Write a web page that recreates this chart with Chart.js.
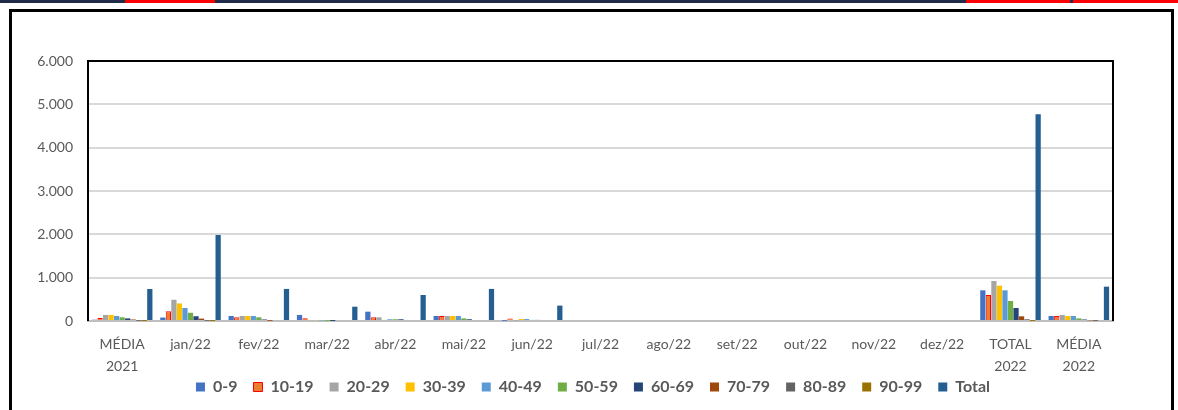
<!DOCTYPE html>
<html>
<head>
<meta charset="utf-8">
<script src="https://cdn.jsdelivr.net/npm/chart.js@4"></script>
<style>
  html, body { margin: 0; padding: 0; background: #fff; }
  body { width: 1178px; height: 410px; position: relative; overflow: hidden; }
  #strip { position: absolute; left: 0; top: 0; width: 1178px; height: 3px; background: #1f2b48; }
  .red { position: absolute; top: 0; height: 3px; background: #ff0000; }
  #frame { position: absolute; left: 9px; top: 9px; width: 1159px; height: 420px; border: 3px solid #000; box-sizing: content-box; }
  #chart { position: absolute; left: 0; top: 0; }
</style>
</head>
<body>
<div id="strip">
  <div class="red" style="left:125px;width:90px"></div>
  <div class="red" style="left:966px;width:104px"></div>
  <div class="red" style="left:1073px;width:105px"></div>
</div>
<div id="frame"></div>
<canvas id="chart" width="1178" height="410"></canvas>
<script>
// Faixa etária por mês

const categories = [['MÉDIA', '2021'], 'jan/22', 'fev/22', 'mar/22', 'abr/22', 'mai/22', 'jun/22',
    'jul/22', 'ago/22', 'set/22', 'out/22', 'nov/22', 'dez/22', ['TOTAL', '2022'], ['MÉDIA', '2022']];

const age0_9   = [30,  80, 115, 140, 215, 115,  5, 0, 0, 0, 0, 0, 0, 708, 115];
const age10_19 = [70, 225,  85,  65,  85, 115, 60, 0, 0, 0, 0, 0, 0, 600, 115];
const age20_29 = [140, 490, 115, 20,  85, 115, 10, 0, 0, 0, 0, 0, 0, 923, 140];
const age30_39 = [140, 405, 115, 20,  25, 115, 45, 0, 0, 0, 0, 0, 0, 815, 115];
const age40_49 = [115, 300, 115, 15,  40, 115, 45, 0, 0, 0, 0, 0, 0, 708, 115];
const age50_59 = [85, 190,  85,   5,  40,  60, 25, 0, 0, 0, 0, 0, 0, 461,  60];
const age60_69 = [60, 110,  35,   2,  40,  40, 25, 0, 0, 0, 0, 0, 0, 300,  35];
const age70_79 = [35,  55,   5,   0,   0,   0,  0, 0, 0, 0, 0, 0, 0, 108,  15];
const age80_89 = [5,    5,   0,   0,   0,   0,  0, 0, 0, 0, 0, 0, 0,  40,   3];
const age90_99 = [1,    1,   0,   0,   0,   0,  0, 0, 0, 0, 0, 0, 0,   2,   0];
const total    = [738, 1985, 740, 330, 600, 740, 355, 0, 0, 0, 0, 0, 0, 4770, 792];

const yTicks = [0, 1000, 2000, 3000, 4000, 5000, 6000];

const series = [
    { label: '0-9',   data: age0_9,   color: '#4472c4' },
    { label: '10-19', data: age10_19, color: '#ed7d31', border: '#ff0000' },
    { label: '20-29', data: age20_29, color: '#a5a5a5' },
    { label: '30-39', data: age30_39, color: '#ffc000' },
    { label: '40-49', data: age40_49, color: '#5b9bd5' },
    { label: '50-59', data: age50_59, color: '#70ad47' },
    { label: '60-69', data: age60_69, color: '#264478' },
    { label: '70-79', data: age70_79, color: '#9e480e' },
    { label: '80-89', data: age80_89, color: '#636363' },
    { label: '90-99', data: age90_99, color: '#997300' },
    { label: 'Total', data: total,    color: '#255e91' }
];

const fontFamily = 'Lato, "Open Sans", sans-serif';
const textColor = '#595959';

// moldura da área do gráfico (preta em cima e nos lados)
const plotBorder = {
    id: 'plotBorder',
    afterLayout(chart) {
        // deixa a segunda linha dos rótulos do eixo x sem corte
        chart.scales.x.bottom = chart.height;
    },
    afterDraw(chart) {
        const a = chart.chartArea;
        const c = chart.ctx;
        c.save();
        c.strokeStyle = '#000';
        c.lineWidth = 2;
        c.beginPath();
        c.moveTo(a.left, a.bottom);
        c.lineTo(a.left, a.top);
        c.lineTo(a.right, a.top);
        c.lineTo(a.right, a.bottom);
        c.stroke();
        c.restore();
    }
};

new Chart(document.getElementById('chart').getContext('2d'), {
    type: 'bar',
    data: {
        labels: categories,
        datasets: series.map(s => ({
            label: s.label,
            data: s.data,
            backgroundColor: s.color,
            borderColor: s.border || s.color,
            borderWidth: s.border ? 1 : 0,
            categoryPercentage: 0.89,
            barPercentage: 0.95
        }))
    },
    options: {
        responsive: false,
        animation: false,
        layout: { padding: { left: 8, right: 0, top: 61, bottom: 5 } },
        plugins: {
            tooltip: { enabled: false },
            legend: {
                position: 'bottom',
                labels: {
                    color: textColor,
                    font: { family: fontFamily, size: 16, weight: 'bold' },
                    boxWidth: 9,
                    boxHeight: 9,
                    padding: 16
                }
            }
        },
        scales: {
            x: {
                grid: { display: false, drawTicks: false },
                border: { color: '#bfbfbf', width: 2 },
                ticks: {
                    color: textColor,
                    font: { family: fontFamily, size: 14, lineHeight: 1.55 },
                    padding: 13,
                    maxRotation: 0,
                    autoSkip: false
                },
                afterFit(scale) { scale.height = 42; }
            },
            y: {
                min: 0,
                max: 6000,
                afterBuildTicks(scale) { scale.ticks = yTicks.map(v => ({ value: v })); },
                grid: { color: '#d9d9d9', lineWidth: 2, drawTicks: false },
                border: { display: false },
                ticks: {
                    color: textColor,
                    font: { family: fontFamily, size: 14 },
                    padding: 15,
                    callback: v => v.toLocaleString('pt-BR')
                },
                afterFit(scale) { scale.width = 80; }
            },
            // eixo vazio à direita, só para reservar a margem
            yRight: {
                position: 'right',
                min: 0,
                max: 6000,
                grid: { display: false },
                border: { display: false },
                ticks: { display: false },
                afterFit(scale) { scale.width = 65; }
            }
        }
    },
    plugins: [plotBorder]
});
</script>
</body>
</html>
